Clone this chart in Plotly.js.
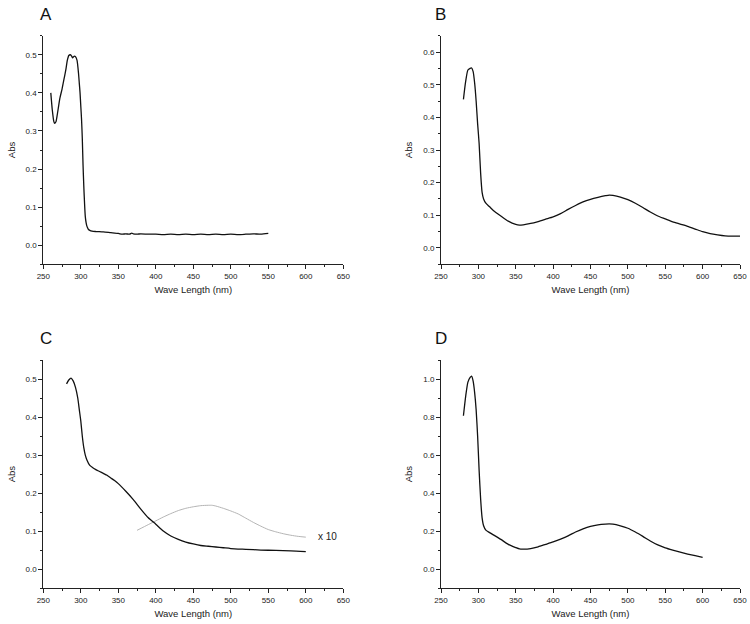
<!DOCTYPE html>
<html>
<head>
<meta charset="utf-8">
<script src="https://cdn.plot.ly/plotly-3.0.1.min.js"></script>
<style>html,body{margin:0;padding:0;background:#fff;}#chart{width:750px;height:624px;}</style>
</head>
<body>
<div id="chart"></div>
<script>
// ---- Data ----
const panelLabels = ["A", "B", "C", "D"];
const xTitle = "Wave Length (nm)";
const yTitle = "Abs";
const scaleLabel = "x 10";

const aX = [260, 262, 264, 265, 267, 268, 270, 272, 275, 278, 280, 282, 284, 286, 288, 289, 291, 293, 295, 297, 298, 299, 300, 301, 302, 303, 304, 305, 306, 307, 308, 309, 310, 312, 315, 320, 330, 340, 350, 355, 360, 365, 368, 370, 375, 380, 390, 400, 410, 420, 430, 440, 450, 460, 470, 480, 490, 500, 510, 520, 530, 540, 550];
const aY = [0.40, 0.355, 0.325, 0.32, 0.325, 0.335, 0.36, 0.385, 0.41, 0.44, 0.46, 0.485, 0.498, 0.50, 0.496, 0.492, 0.496, 0.495, 0.485, 0.45, 0.425, 0.40, 0.365, 0.33, 0.28, 0.21, 0.155, 0.11, 0.075, 0.06, 0.051, 0.046, 0.042, 0.039, 0.037, 0.036, 0.035, 0.033, 0.031, 0.029, 0.030, 0.029, 0.032, 0.030, 0.029, 0.030, 0.029, 0.029, 0.028, 0.029, 0.028, 0.029, 0.028, 0.029, 0.028, 0.029, 0.028, 0.029, 0.028, 0.029, 0.030, 0.029, 0.031];

const bX = [280, 283, 286, 289, 291, 293, 295, 297, 299, 301, 303, 305, 307, 310, 315, 320, 330, 340, 350, 355, 360, 370, 380, 390, 400, 410, 420, 430, 440, 450, 460, 470, 475, 480, 490, 500, 510, 520, 530, 540, 550, 560, 570, 580, 590, 600, 610, 620, 630, 640, 650];
const bY = [0.455, 0.51, 0.545, 0.55, 0.551, 0.54, 0.505, 0.45, 0.38, 0.32, 0.23, 0.17, 0.15, 0.137, 0.126, 0.115, 0.098, 0.082, 0.072, 0.070, 0.071, 0.075, 0.081, 0.088, 0.095, 0.105, 0.118, 0.130, 0.141, 0.149, 0.155, 0.160, 0.162, 0.161, 0.156, 0.148, 0.137, 0.124, 0.110, 0.098, 0.089, 0.080, 0.073, 0.066, 0.058, 0.050, 0.044, 0.040, 0.037, 0.036, 0.036];

const cX = [281, 284, 287, 290, 293, 296, 298, 300, 302, 304, 306, 308, 312, 316, 320, 325, 330, 335, 340, 345, 350, 360, 370, 380, 390, 400, 410, 420, 430, 440, 450, 460, 470, 480, 490, 500, 520, 540, 560, 580, 600];
const cY = [0.488, 0.498, 0.503, 0.495, 0.478, 0.45, 0.42, 0.39, 0.35, 0.32, 0.30, 0.288, 0.273, 0.267, 0.262, 0.257, 0.252, 0.247, 0.240, 0.233, 0.225, 0.205, 0.183, 0.158, 0.135, 0.118, 0.100, 0.087, 0.078, 0.071, 0.066, 0.062, 0.060, 0.058, 0.056, 0.054, 0.052, 0.050, 0.049, 0.048, 0.046];

const gX = [375, 390, 400, 410, 420, 430, 440, 450, 460, 470, 475, 480, 490, 500, 510, 520, 530, 540, 550, 560, 570, 580, 590, 600];
const gY = [0.102, 0.117, 0.127, 0.137, 0.146, 0.154, 0.160, 0.164, 0.167, 0.168, 0.168, 0.166, 0.160, 0.153, 0.145, 0.134, 0.123, 0.113, 0.104, 0.098, 0.093, 0.089, 0.086, 0.084];

const dX = [280, 283, 286, 289, 291, 293, 295, 297, 299, 301, 303, 305, 307, 310, 315, 320, 330, 340, 350, 355, 360, 370, 380, 390, 400, 410, 420, 430, 440, 450, 460, 470, 475, 480, 490, 500, 510, 520, 530, 540, 550, 560, 570, 580, 590, 600];
const dY = [0.808, 0.91, 0.985, 1.01, 1.017, 0.99, 0.93, 0.84, 0.70, 0.52, 0.37, 0.27, 0.228, 0.205, 0.192, 0.18, 0.156, 0.13, 0.113, 0.106, 0.105, 0.108, 0.117, 0.13, 0.143, 0.158, 0.175, 0.195, 0.212, 0.225, 0.233, 0.237, 0.238, 0.237, 0.228, 0.215, 0.195, 0.172, 0.148, 0.127, 0.112, 0.100, 0.089, 0.079, 0.07, 0.061];

const xTicks = [250, 300, 350, 400, 450, 500, 550, 600, 650];

// ---- Styles ----
const FONT = "Liberation Sans, Arial, sans-serif";
const black = {color: "#111", width: 1.3, shape: "spline", smoothing: 0.6};

const traces = [
  {x: aX, y: aY, xaxis: "x", yaxis: "y", mode: "lines", line: black},
  {x: bX, y: bY, xaxis: "x2", yaxis: "y2", mode: "lines", line: black},
  {x: gX, y: gY, xaxis: "x3", yaxis: "y3", mode: "lines", line: {color: "#b4b4b4", width: 1, shape: "spline", smoothing: 0.6}},
  {x: cX, y: cY, xaxis: "x3", yaxis: "y3", mode: "lines", line: black},
  {x: dX, y: dY, xaxis: "x4", yaxis: "y4", mode: "lines", line: black}
];

function xAxis(domain, anchor) {
  return {
    domain: domain, anchor: anchor, range: [250, 650], tickvals: xTicks,
    showline: true, linecolor: "#222", linewidth: 1, showgrid: false, zeroline: false,
    ticks: "outside", ticklen: 4, tickcolor: "#222", tickwidth: 1,
    minor: {ticks: "outside", ticklen: 2, dtick: 25, tickcolor: "#222", showgrid: false},
    tickfont: {family: FONT, size: 8, color: "#222"},
    title: {text: xTitle, font: {family: FONT, size: 9.5, color: "#222"}, standoff: 6}
  };
}
function yAxis(domain, anchor, range, dtick) {
  return {
    domain: domain, anchor: anchor, range: range, dtick: dtick, tick0: 0, tickformat: ".1f",
    showline: true, linecolor: "#222", linewidth: 1, showgrid: false, zeroline: false,
    ticks: "outside", ticklen: 4, tickcolor: "#222", tickwidth: 1,
    minor: {ticks: "outside", ticklen: 2, dtick: dtick / 2, tickcolor: "#222", showgrid: false},
    tickfont: {family: FONT, size: 8, color: "#222"},
    title: {text: yTitle, font: {family: FONT, size: 9.5, color: "#222"}, standoff: 8}
  };
}

const xL = [43.3 / 750, 343.3 / 750];
const xR = [441 / 750, 740 / 750];
const yT = [1 - 264.3 / 624, 1 - 35.7 / 624];
const yB = [1 - 588 / 624, 1 - 360.3 / 624];

const labelPos = [[38, 14], [433, 14], [38, 338.5], [433, 338.5]];
const annotations = panelLabels.map((t, i) => ({
  text: t, xref: "paper", yref: "paper", x: labelPos[i][0] / 750, y: 1 - labelPos[i][1] / 624,
  xanchor: "left", yanchor: "middle", showarrow: false,
  font: {family: FONT, size: 17, color: "#111"}
}));
annotations.push({
  text: scaleLabel, xref: "x3", yref: "y3", x: 613, y: 0.087, xanchor: "left", yanchor: "middle",
  showarrow: false, font: {family: FONT, size: 10, color: "#222"}
});

const layout = {
  width: 750, height: 624,
  margin: {l: 0, r: 0, t: 0, b: 0},
  paper_bgcolor: "#fff", plot_bgcolor: "#fff",
  showlegend: false,
  font: {family: FONT},
  xaxis: xAxis(xL, "y"), yaxis: yAxis(yT, "x", [-0.05, 0.55], 0.1),
  xaxis2: xAxis(xR, "y2"), yaxis2: yAxis(yT, "x2", [-0.05, 0.65], 0.1),
  xaxis3: xAxis(xL, "y3"), yaxis3: yAxis(yB, "x3", [-0.05, 0.55], 0.1),
  xaxis4: xAxis(xR, "y4"), yaxis4: yAxis(yB, "x4", [-0.1, 1.1], 0.2),
  annotations: annotations
};

Plotly.newPlot("chart", traces, layout, {displayModeBar: false, staticPlot: true});
</script>
</body>
</html>
